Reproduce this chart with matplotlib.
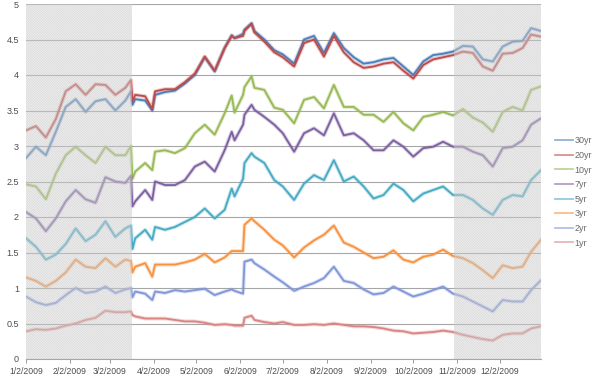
import matplotlib
matplotlib.use("Agg")
import matplotlib.pyplot as plt
import datetime as dt
import matplotlib.dates as mdates

# ---------------- data ----------------
dates = ["2009-01-02", "2009-01-09", "2009-01-16", "2009-01-23", "2009-01-30",
         "2009-02-06", "2009-02-13", "2009-02-20", "2009-02-27",
         "2009-03-06", "2009-03-13", "2009-03-17", "2009-03-18", "2009-03-20", "2009-03-27",
         "2009-04-01", "2009-04-03", "2009-04-10", "2009-04-17", "2009-04-24",
         "2009-05-01", "2009-05-08", "2009-05-15", "2009-05-22", "2009-05-27", "2009-05-29",
         "2009-06-04", "2009-06-05", "2009-06-10", "2009-06-12", "2009-06-19", "2009-06-26",
         "2009-07-02", "2009-07-10", "2009-07-17", "2009-07-24", "2009-07-31",
         "2009-08-07", "2009-08-14", "2009-08-21", "2009-08-28",
         "2009-09-04", "2009-09-11", "2009-09-18", "2009-09-25",
         "2009-10-02", "2009-10-09", "2009-10-16", "2009-10-23", "2009-10-30",
         "2009-11-06", "2009-11-13", "2009-11-20", "2009-11-27",
         "2009-12-04", "2009-12-11", "2009-12-18", "2009-12-24", "2009-12-31"]

y30 = [2.83, 2.99, 2.87, 3.20, 3.55, 3.66, 3.48, 3.63, 3.66, 3.50, 3.64, 3.77, 3.58, 3.66, 3.64,
       3.50, 3.72, 3.76, 3.78, 3.88, 4.00, 4.25, 4.05, 4.38, 4.56, 4.52,
       4.58, 4.64, 4.73, 4.62, 4.50, 4.35, 4.29, 4.16, 4.50, 4.55, 4.31,
       4.59, 4.38, 4.25, 4.16, 4.18, 4.22, 4.24, 4.12, 4.00, 4.19, 4.28, 4.30, 4.33,
       4.41, 4.40, 4.22, 4.19, 4.40, 4.47, 4.48, 4.66, 4.62]
y20 = [3.22, 3.28, 3.12, 3.38, 3.77, 3.87, 3.72, 3.87, 3.86, 3.72, 3.82, 3.93, 3.63, 3.72, 3.70,
       3.52, 3.77, 3.80, 3.80, 3.90, 4.02, 4.26, 4.06, 4.38, 4.55, 4.52,
       4.55, 4.62, 4.72, 4.60, 4.47, 4.32, 4.25, 4.12, 4.45, 4.50, 4.26,
       4.55, 4.32, 4.18, 4.10, 4.12, 4.16, 4.18, 4.06, 3.95, 4.14, 4.22, 4.25, 4.28,
       4.33, 4.31, 4.12, 4.06, 4.30, 4.31, 4.38, 4.57, 4.54]
y10 = [2.46, 2.43, 2.25, 2.61, 2.87, 2.99, 2.87, 2.76, 2.99, 2.87, 2.87, 3.00, 2.54, 2.64, 2.76,
       2.66, 2.92, 2.94, 2.90, 2.97, 3.18, 3.30, 3.16, 3.46, 3.71, 3.47,
       3.72, 3.83, 3.98, 3.82, 3.79, 3.54, 3.51, 3.32, 3.65, 3.69, 3.53,
       3.86, 3.55, 3.55, 3.44, 3.44, 3.34, 3.48, 3.32, 3.22, 3.41, 3.44, 3.48, 3.43,
       3.52, 3.40, 3.33, 3.20, 3.48, 3.55, 3.50, 3.79, 3.84]
y7 = [2.07, 1.98, 1.80, 1.98, 2.22, 2.38, 2.25, 2.20, 2.56, 2.50, 2.48, 2.58, 2.15, 2.22, 2.38,
      2.24, 2.50, 2.45, 2.45, 2.52, 2.71, 2.78, 2.64, 2.94, 3.20, 3.08,
      3.30, 3.44, 3.58, 3.51, 3.41, 3.30, 3.18, 2.92, 3.18, 3.25, 3.15,
      3.46, 3.15, 3.18, 3.08, 2.94, 2.94, 3.08, 2.99, 2.85, 2.97, 2.99, 3.06, 2.99,
      2.99, 2.92, 2.87, 2.71, 2.97, 2.99, 3.08, 3.30, 3.39]
y5 = [1.70, 1.58, 1.40, 1.47, 1.62, 1.84, 1.66, 1.75, 1.94, 1.72, 1.84, 1.88, 1.55, 1.70, 1.82,
      1.68, 1.86, 1.82, 1.86, 1.93, 2.00, 2.12, 1.98, 2.10, 2.40, 2.29,
      2.54, 2.76, 2.90, 2.85, 2.76, 2.52, 2.43, 2.24, 2.47, 2.59, 2.52,
      2.80, 2.50, 2.57, 2.43, 2.26, 2.31, 2.47, 2.38, 2.22, 2.33, 2.38, 2.43, 2.31,
      2.31, 2.24, 2.12, 2.03, 2.24, 2.31, 2.29, 2.52, 2.66]
y3 = [1.15, 1.10, 1.02, 1.10, 1.22, 1.40, 1.30, 1.28, 1.42, 1.30, 1.40, 1.38, 1.22, 1.30, 1.35,
      1.16, 1.33, 1.33, 1.33, 1.36, 1.40, 1.48, 1.36, 1.43, 1.52, 1.52,
      1.52, 1.89, 1.98, 1.94, 1.82, 1.68, 1.60, 1.43, 1.57, 1.67, 1.75,
      1.88, 1.64, 1.58, 1.50, 1.42, 1.44, 1.53, 1.40, 1.36, 1.44, 1.47, 1.54, 1.45,
      1.42, 1.35, 1.25, 1.14, 1.32, 1.28, 1.30, 1.51, 1.68]
y2 = [0.88, 0.80, 0.76, 0.79, 0.90, 1.00, 0.93, 0.95, 1.02, 0.93, 0.98, 1.00, 0.87, 0.95, 0.92,
      0.83, 0.95, 0.93, 0.97, 0.95, 0.97, 0.99, 0.90, 0.95, 0.98, 0.96,
      0.92, 1.37, 1.40, 1.35, 1.26, 1.16, 1.08, 0.96, 1.02, 1.07, 1.14,
      1.30, 1.10, 1.07, 0.98, 0.91, 0.93, 1.02, 0.95, 0.88, 0.92, 0.97, 1.02, 0.92,
      0.88, 0.81, 0.74, 0.67, 0.83, 0.81, 0.81, 0.97, 1.11]
y1 = [0.39, 0.42, 0.41, 0.43, 0.47, 0.50, 0.55, 0.58, 0.68, 0.66, 0.66, 0.67, 0.62, 0.60, 0.57,
      0.57, 0.57, 0.57, 0.55, 0.53, 0.53, 0.51, 0.48, 0.49, 0.48, 0.47,
      0.47, 0.58, 0.61, 0.55, 0.52, 0.50, 0.52, 0.48, 0.48, 0.49, 0.48,
      0.50, 0.48, 0.46, 0.46, 0.45, 0.43, 0.40, 0.39, 0.36, 0.37, 0.38, 0.40, 0.38,
      0.34, 0.31, 0.28, 0.26, 0.34, 0.36, 0.36, 0.43, 0.46]

series_names = ["30yr", "20yr", "10yr", "7yr", "5yr", "3yr", "2yr", "1yr"]
series_values = [y30, y20, y10, y7, y5, y3, y2, y1]
series_colors = ["#4A7EBB", "#BE4B48", "#98B954", "#7D60A0",
                 "#46AAC5", "#F69240", "#8096DA", "#DA8482"]

x_tick_dates = ["2009-01-02", "2009-02-02", "2009-03-02", "2009-04-02", "2009-05-02",
                "2009-06-02", "2009-07-02", "2009-08-02", "2009-09-02", "2009-10-02",
                "2009-11-02", "2009-12-02"]
x_tick_labels = ["1/2/2009", "2/2/2009", "3/2/2009", "4/2/2009", "5/2/2009", "6/2/2009",
                 "7/2/2009", "8/2/2009", "9/2/2009", "10/2/2009", "11/2/2009", "12/2/2009"]
y_ticks = [0, 0.5, 1, 1.5, 2, 2.5, 3, 3.5, 4, 4.5, 5]
y_tick_labels = ["0", "0.5", "1", "1.5", "2", "2.5", "3", "3.5", "4", "4.5", "5"]

x_start, x_end = "2009-01-02", "2009-12-31"
shade_left_end = "2009-03-18"
shade_right_start = "2009-10-31"

# ---------------- plot ----------------
def d2n(s):
    return mdates.date2num(dt.datetime.fromisoformat(s))

plt.rcParams["font.family"] = ["Liberation Sans", "DejaVu Sans"]
plt.rcParams["hatch.linewidth"] = 0.3

fig = plt.figure(figsize=(6.0, 3.82), dpi=100)
ax = fig.add_axes([26 / 600, 23 / 382, 515 / 600, 355 / 382])

xs = [d2n(s) for s in dates]
handles = []
for name, vals, col in zip(series_names, series_values, series_colors):
    ax.plot(xs, vals, color=col, lw=2.8, alpha=0.3, solid_joinstyle="round", zorder=3)
    h, = ax.plot(xs, vals, color=col, lw=1.3, solid_joinstyle="round", zorder=3, label=name)
    handles.append(h)

x0, x1 = d2n(x_start), d2n(x_end)
ax.set_xlim(x0, x1)
ax.set_ylim(0, 5)

# shaded (stippled) periods, drawn over the lines to fade them
for a, b in [(x0, d2n(shade_left_end)), (d2n(shade_right_start), x1)]:
    ax.axvspan(a, b, facecolor=(1, 1, 1, 0.38), edgecolor=(0.55, 0.55, 0.55, 0.32),
               hatch="x" * 20, lw=0, zorder=5)

ax.set_yticks(y_ticks)
ax.set_yticklabels(y_tick_labels)
ax.set_xticks([d2n(s) for s in x_tick_dates])
ax.set_xticklabels(x_tick_labels)
ax.tick_params(axis="y", length=0, pad=5, labelsize=6.5, labelcolor="#4d4d4d")
ax.tick_params(axis="x", length=3, width=0.6, color="#8c8c8c", pad=3,
               labelsize=6.2, labelcolor="#4d4d4d")

ax.grid(axis="y", color="#a6a6a6", lw=0.8, zorder=1)
ax.set_axisbelow(True)
for s in ["top", "right", "left"]:
    ax.spines[s].set_visible(False)
ax.spines["bottom"].set_color("#a6a6a6")
ax.spines["bottom"].set_linewidth(0.8)

leg = fig.legend(handles=handles, loc="center left",
                 bbox_to_anchor=(551 / 600, 1 - 192 / 382), frameon=False,
                 fontsize=6.5, handlelength=2.0, handletextpad=0.2,
                 labelspacing=0.62, borderaxespad=0)
for t in leg.get_texts():
    t.set_color("#6a6a6a")
for l in leg.get_lines():
    l.set_alpha(0.6)

fig.savefig("out.png", dpi=100)
